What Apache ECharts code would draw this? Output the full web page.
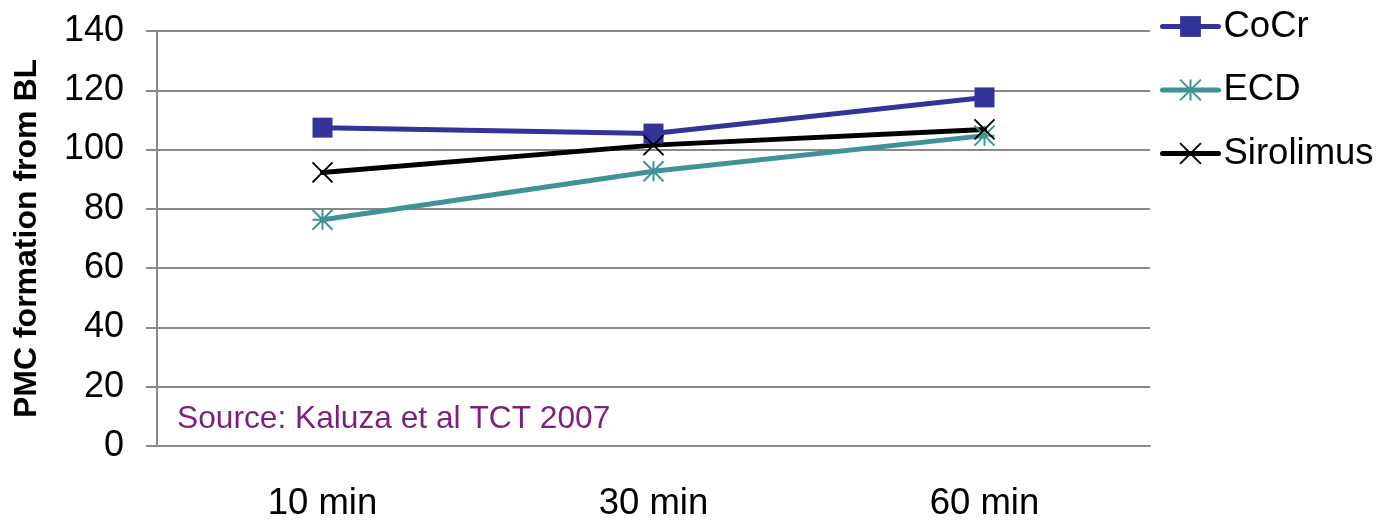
<!DOCTYPE html>
<html>
<head>
<meta charset="utf-8">
<script src="https://cdn.jsdelivr.net/npm/echarts@6/dist/echarts.min.js"></script>
<style>
html,body{margin:0;padding:0;background:#fff;}
#chart{width:1377px;height:522px;}
</style>
</head>
<body>
<div id="chart"></div>
<script>
const categories = ['10 min', '30 min', '60 min'];
const cocr = [107.4, 105.4, 117.6];
const ecd = [76.3, 92.7, 104.7];
const sirolimus = [92.3, 101.5, 106.8];
const seriesNames = ['CoCr', 'ECD', 'Sirolimus'];
const yAxisName = 'PMC formation from BL';
const sourceNote = 'Source: Kaluza et al TCT 2007';

const FONT = '"Liberation Sans", Arial, sans-serif';
const XMARK = 'path://M0,0L10,10M10,0L0,10';
const ASTER = 'path://M0,0L10,10M10,0L0,10M5,0L5,10M0,5L10,5';

const chart = echarts.init(document.getElementById('chart'), null, {renderer: 'canvas'});
chart.setOption({
  animation: false,
  backgroundColor: '#ffffff',
  textStyle: {fontFamily: FONT},
  grid: {left: 157, right: 227, top: 31, bottom: 70, containLabel: false},
  legend: {
    orient: 'vertical',
    left: 1155,
    top: 3,
    itemWidth: 56,
    itemHeight: 26,
    itemGap: 26.5,
    lineStyle: {width: 5, cap: 'round'},
    textStyle: {fontSize: 36.5, color: '#000', lineHeight: 35, fontFamily: FONT},
    data: seriesNames
  },
  xAxis: {
    type: 'category',
    data: categories,
    boundaryGap: true,
    axisLine: {show: true, lineStyle: {color: '#898989', width: 2}},
    axisTick: {show: false},
    axisLabel: {fontSize: 36.5, color: '#000', margin: 39, fontFamily: FONT},
    splitLine: {show: false}
  },
  yAxis: {
    type: 'value',
    min: 0, max: 140, interval: 20,
    name: yAxisName,
    nameLocation: 'middle',
    nameGap: 114,
    nameRotate: 90,
    nameTextStyle: {fontSize: 32, fontWeight: 'bold', color: '#000', fontFamily: FONT},
    axisLine: {show: true, lineStyle: {color: '#898989', width: 2}},
    axisTick: {show: true, inside: false, length: 11, lineStyle: {color: '#898989', width: 2}},
    axisLabel: {fontSize: 36, color: '#000', margin: 33, fontFamily: FONT},
    splitLine: {show: true, lineStyle: {color: '#898989', width: 2}}
  },
  graphic: [{
    type: 'text',
    left: 177,
    top: 403,
    style: {text: sourceNote, font: '31.7px "Liberation Sans", Arial, sans-serif', fill: '#7e1f7e'}
  }],
  series: [
    {
      name: seriesNames[0], type: 'line', data: cocr,
      symbol: 'rect', symbolSize: 20,
      lineStyle: {color: '#333399', width: 5, cap: 'round'},
      itemStyle: {color: '#333399', borderColor: '#333399', borderWidth: 0}
    },
    {
      name: seriesNames[1], type: 'line', data: ecd,
      symbol: ASTER, symbolSize: 20,
      lineStyle: {color: '#3f9395', width: 5, cap: 'round'},
      itemStyle: {color: '#3f9395', borderColor: '#3f9395', borderWidth: 2}
    },
    {
      name: seriesNames[2], type: 'line', data: sirolimus,
      symbol: XMARK, symbolSize: 20,
      lineStyle: {color: '#000000', width: 5, cap: 'round'},
      itemStyle: {color: '#000000', borderColor: '#000000', borderWidth: 2}
    }
  ]
});
</script>
</body>
</html>
